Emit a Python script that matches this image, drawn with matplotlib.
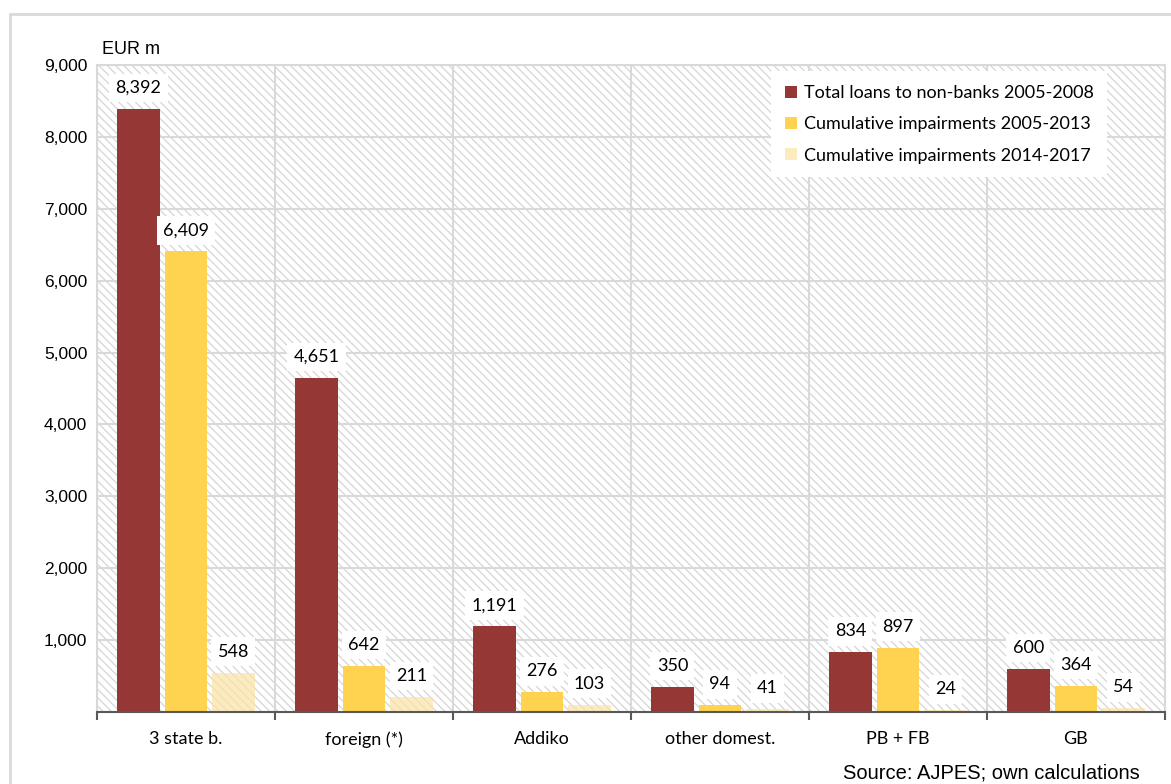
import numpy as np
import matplotlib
matplotlib.use("Agg")
import matplotlib.pyplot as plt
from matplotlib.patches import Rectangle
from matplotlib.ticker import FuncFormatter

categories = ["3 state b.", "foreign (*)", "Addiko", "other domest.", "PB + FB", "GB"]
loans_2005_2008 = [8392, 4651, 1191, 350, 834, 600]
impair_2005_2013 = [6409, 642, 276, 94, 897, 364]
impair_2014_2017 = [548, 211, 103, 41, 24, 54]
series_names = ["Total loans to non-banks 2005-2008",
                "Cumulative impairments 2005-2013",
                "Cumulative impairments 2014-2017"]
yticks = [1000, 2000, 3000, 4000, 5000, 6000, 7000, 8000, 9000]

plt.rcParams["hatch.color"] = "#d6d6d6"
plt.rcParams["hatch.linewidth"] = 0.9

fig = plt.figure(figsize=(11.71, 7.84), dpi=100)
ax = fig.add_axes([0.0828, 0.0918, 0.912, 0.8253])

# outer frame (runs off the right and bottom edges)
fig.add_artist(Rectangle((10 / 1171, -0.05), 1.1, (784 - 14) / 784 + 0.05,
                         transform=fig.transFigure, fill=False,
                         edgecolor="#d9d9d9", linewidth=2))

# hatched plot background
ax.add_patch(Rectangle((0, 0), 1, 1, transform=ax.transAxes, facecolor="white",
                       edgecolor="#d6d6d6", linewidth=0, hatch="\\\\\\\\", zorder=0))

x = np.arange(len(categories))
w = 0.24
off = 0.267
colors = ["#953735", "#ffd34f", "#fde3a6"]
alphas = [1.0, 1.0, 0.7]
data = [loans_2005_2008, impair_2005_2013, impair_2014_2017]

label_font = "Lato"
for i, (vals, c, a, name) in enumerate(zip(data, colors, alphas, series_names)):
    xs = x + (i - 1) * off
    ax.bar(xs, vals, width=w, color=c, alpha=a, label=name, zorder=2, linewidth=0)
    for xi, v in zip(xs, vals):
        ax.annotate(f"{v:,}", (xi, v), xytext=(0, 15), textcoords="offset points",
                    ha="center", va="center", fontsize=13, family=label_font,
                    bbox=dict(boxstyle="square,pad=0.35", fc="white", ec="none"),
                    zorder=4)

ax.set_xlim(-0.5, len(categories) - 0.5)
ax.set_ylim(0, 9000)
ax.set_yticks(yticks)
ax.yaxis.set_major_formatter(FuncFormatter(lambda v, p: f"{int(v):,}"))
ax.tick_params(axis="y", length=0, pad=7, labelsize=12.5)
for t in ax.get_yticklabels():
    t.set_family("Liberation Sans")

# category boundaries as major ticks, names at minor ticks
ax.set_xticks(np.arange(-0.5, len(categories)))
ax.set_xticklabels([])
ax.set_xticks(x, minor=True)
ax.set_xticklabels(categories, minor=True, fontsize=13, family=label_font)
ax.tick_params(axis="x", which="major", length=6, width=1.5, color="#595959", direction="out")
ax.tick_params(axis="x", which="minor", length=0, pad=14)

ax.set_axisbelow(True)
ax.grid(True, which="major", color="#d9d9d9", linewidth=1.5)

for s in ["left", "right", "top"]:
    ax.spines[s].set_color("#d9d9d9")
    ax.spines[s].set_linewidth(1.5)
ax.spines["bottom"].set_color("#595959")
ax.spines["bottom"].set_linewidth(1.5)

leg = ax.legend(loc="upper right", bbox_to_anchor=(0.946, 0.99), borderaxespad=0,
                prop={"family": label_font, "size": 13}, frameon=True, fancybox=False,
                handlelength=0.65, handleheight=0.65, handletextpad=0.4,
                labelspacing=0.85, borderpad=0.75)
leg.get_frame().set_facecolor("white")
leg.get_frame().set_edgecolor("none")
leg.get_frame().set_alpha(1)
leg.set_zorder(5)

fig.text(102 / 1171, 1 - 50 / 784, "EUR m", fontsize=13, family="Liberation Sans",
         ha="left", va="center")
fig.text(1140 / 1171, 1 - 773 / 784, "Source: AJPES; own calculations", fontsize=14.5,
         family="Liberation Sans", ha="right", va="center")

fig.savefig("out.png", dpi=100)
